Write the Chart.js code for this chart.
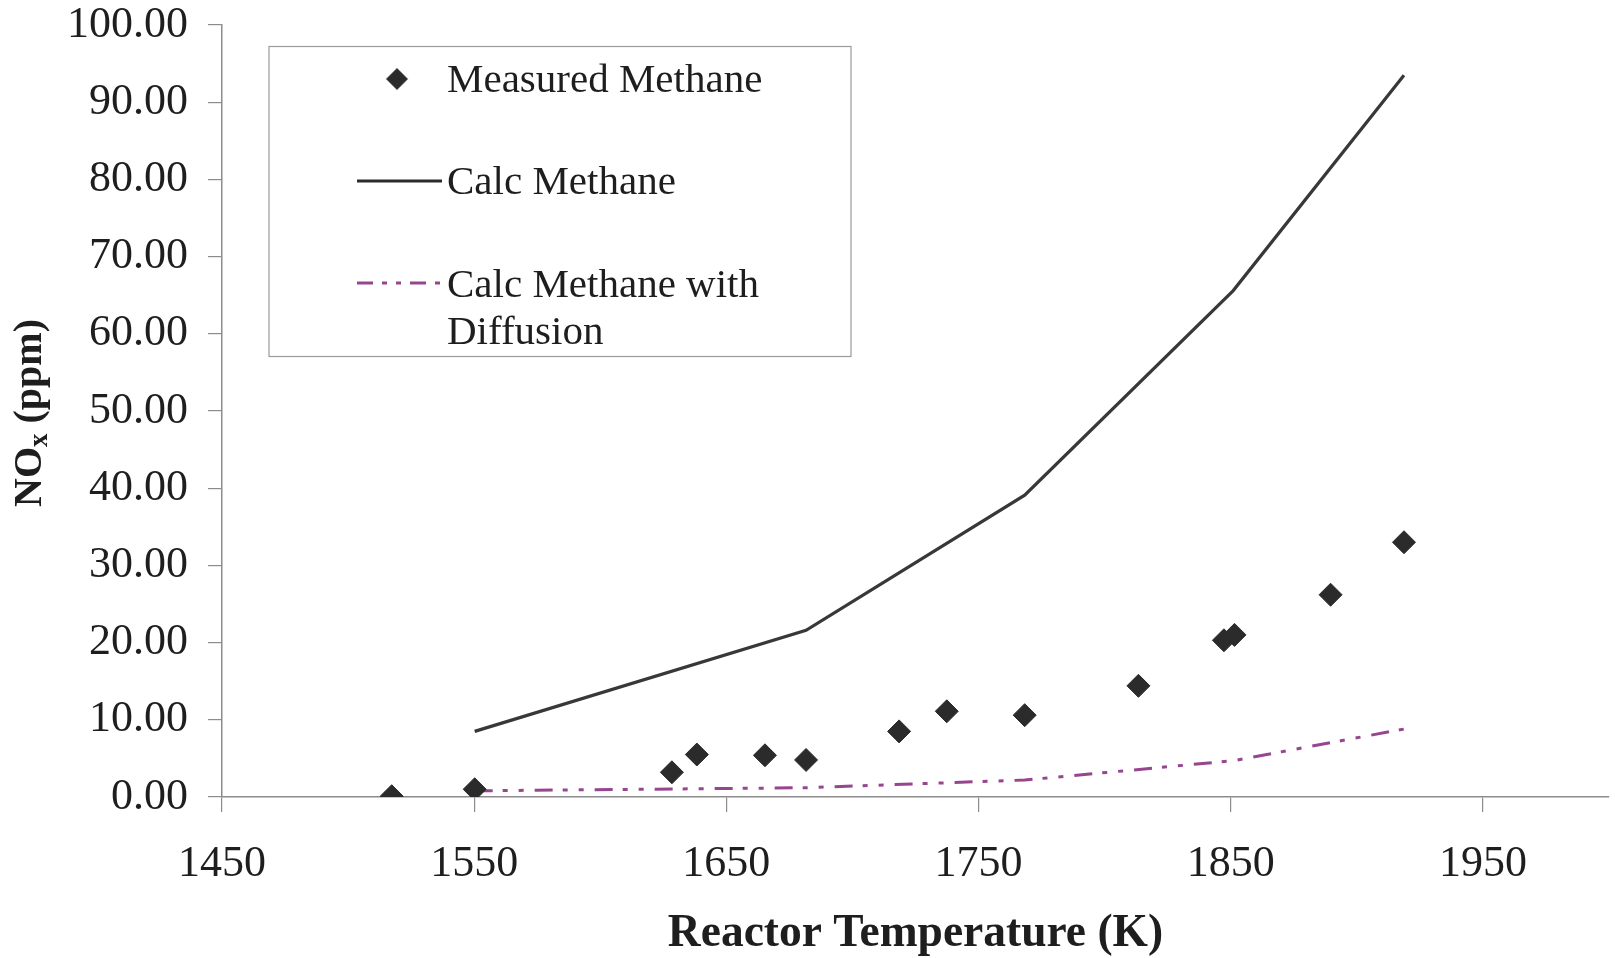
<!DOCTYPE html>
<html>
<head>
<meta charset="utf-8">
<title>NOx vs Reactor Temperature</title>
<script src="https://cdn.jsdelivr.net/npm/chart.js@4.4.1/dist/chart.umd.min.js"></script>
<style>
  html, body { margin: 0; padding: 0; background: #ffffff; }
  #wrap { width: 1615px; height: 958px; position: relative; }
</style>
</head>
<body>
<div id="wrap"><canvas id="c" width="1615" height="958"></canvas></div>
<script>
// Measured NOx for methane firing
const measuredTemp = [1517.3, 1550.2, 1628.4, 1638.3, 1665.3, 1681.6, 1718.5, 1737.4, 1768.3, 1813.4, 1847.3, 1851.5, 1889.6, 1918.7];
const measuredNOx  = [0.1, 1.0, 3.2, 5.5, 5.4, 4.8, 8.5, 11.1, 10.6, 14.4, 20.3, 21.0, 26.2, 33.0];

// Calculated NOx, plain kinetics
const calcTemp = [1550.2, 1681.6, 1768.3, 1851.0, 1918.7];
const calcNOx  = [8.5, 21.6, 39.1, 65.6, 93.5];

// Calculated NOx including diffusion
const diffTemp = [1550.2, 1681.6, 1768.3, 1851.0, 1918.7];
const diffNOx  = [0.8, 1.2, 2.2, 4.7, 8.8];

// Axis ticks
const xTicks = [1450, 1550, 1650, 1750, 1850, 1950];
const yTicks = [0, 10, 20, 30, 40, 50, 60, 70, 80, 90, 100];

const seriesNames = ['Measured Methane', 'Calc Methane', 'Calc Methane with Diffusion'];

const SERIF = '"Liberation Serif", "Times New Roman", serif';
const AXIS_GRAY = '#8c8c8c';
const INK = '#2b2b2b';
const PURPLE = '#96458f';
const DIFF_DASH = [18, 10, 5, 11, 5, 11];

const toPoints = (xs, ys) => xs.map((x, i) => ({ x: x, y: ys[i] }));

// Boxed legend in the upper left of the plot
const boxLegend = {
  id: 'boxLegend',
  afterDraw(chart) {
    const ctx = chart.ctx;
    ctx.save();
    ctx.strokeStyle = '#9a9a9a';
    ctx.lineWidth = 1.2;
    ctx.strokeRect(269, 46.5, 582, 310);

    ctx.font = '41px ' + SERIF;
    ctx.fillStyle = '#1e1e1e';
    ctx.textBaseline = 'middle';
    ctx.textAlign = 'left';

    // diamond marker
    Chart.helpers.drawPoint(ctx, { pointStyle: 'rectRot', radius: 10.5, rotation: 0, borderWidth: 1 }, 397, 79);
    ctx.fillStyle = INK;
    ctx.fill();
    ctx.fillStyle = '#1e1e1e';
    ctx.fillText(seriesNames[0], 447, 81);

    // solid line
    ctx.strokeStyle = INK;
    ctx.lineWidth = 3;
    ctx.beginPath();
    ctx.moveTo(357, 181);
    ctx.lineTo(442, 181);
    ctx.stroke();
    ctx.fillText(seriesNames[1], 447, 183);

    // dash-dot-dot line
    ctx.strokeStyle = PURPLE;
    ctx.setLineDash([16, 9, 5, 9, 5, 9]);
    ctx.beginPath();
    ctx.moveTo(357, 283);
    ctx.lineTo(442, 283);
    ctx.stroke();
    ctx.setLineDash([]);
    ctx.fillText('Calc Methane with', 447, 286);
    ctx.fillText('Diffusion', 447, 333);
    ctx.restore();
  }
};

// Rotated y-axis title with a subscript x
const yTitle = {
  id: 'yTitle',
  afterDraw(chart) {
    const ctx = chart.ctx;
    ctx.save();
    ctx.translate(31, 413);
    ctx.rotate(-Math.PI / 2);
    ctx.fillStyle = '#1e1e1e';
    ctx.textBaseline = 'middle';
    const big = 'bold 40px ' + SERIF;
    const small = 'bold 27px ' + SERIF;
    const parts = [['NO', big, 0], ['x', small, 9], [' (ppm)', big, 0]];
    let total = 0;
    parts.forEach(p => { ctx.font = p[1]; total += ctx.measureText(p[0]).width; });
    let x = -total / 2;
    parts.forEach(p => {
      ctx.font = p[1];
      ctx.fillText(p[0], x, p[2]);
      x += ctx.measureText(p[0]).width;
    });
    ctx.restore();
  }
};

new Chart(document.getElementById('c'), {
  type: 'scatter',
  data: {
    datasets: [
      {
        label: seriesNames[0],
        data: toPoints(measuredTemp, measuredNOx),
        showLine: false,
        pointStyle: 'rectRot',
        pointRadius: 11.5,
        pointBackgroundColor: INK,
        pointBorderColor: INK,
        pointBorderWidth: 1,
        order: 0
      },
      {
        label: seriesNames[1],
        data: toPoints(calcTemp, calcNOx),
        showLine: true,
        borderColor: '#383838',
        borderWidth: 3.2,
        pointRadius: 0,
        tension: 0,
        order: 1
      },
      {
        label: seriesNames[2],
        data: toPoints(diffTemp, diffNOx),
        showLine: true,
        borderColor: PURPLE,
        borderWidth: 3,
        borderDash: DIFF_DASH,
        pointRadius: 0,
        tension: 0,
        order: 2
      }
    ]
  },
  options: {
    responsive: false,
    animation: false,
    devicePixelRatio: 1,
    layout: { autoPadding: false, padding: { top: 25, right: 6, bottom: 0, left: 0 } },
    plugins: {
      legend: { display: false },
      tooltip: { enabled: false }
    },
    scales: {
      x: {
        type: 'linear',
        min: 1450,
        max: 2000,
        afterBuildTicks: s => { s.ticks = xTicks.map(v => ({ value: v })); },
        afterFit: s => { s.height = 161; s.paddingLeft = 0; s.paddingRight = 0; },
        grid: {
          display: true,
          drawOnChartArea: false,
          drawTicks: true,
          tickLength: 15,
          color: AXIS_GRAY,
          lineWidth: 1.2
        },
        border: { display: true, color: AXIS_GRAY, width: 1.5 },
        ticks: {
          padding: 30,
          color: '#1e1e1e',
          font: { family: SERIF, size: 44, lineHeight: 1.0 },
          maxRotation: 0,
          callback: v => String(v)
        },
        title: {
          display: true,
          text: 'Reactor Temperature (K)',
          color: '#1e1e1e',
          font: { family: SERIF, size: 45.5, weight: 'bold', lineHeight: 1.05 },
          padding: { top: 0, bottom: 0 }
        }
      },
      y: {
        type: 'linear',
        min: 0,
        max: 100,
        afterBuildTicks: s => { s.ticks = yTicks.map(v => ({ value: v })); },
        afterFit: s => { s.width = 222; s.paddingTop = 0; s.paddingBottom = 0; },
        grid: {
          display: true,
          drawOnChartArea: false,
          drawTicks: true,
          tickLength: 14,
          color: AXIS_GRAY,
          lineWidth: 1.2
        },
        border: { display: true, color: AXIS_GRAY, width: 1.5 },
        ticks: {
          padding: 20,
          color: '#1e1e1e',
          font: { family: SERIF, size: 44, lineHeight: 1.0 },
          callback: v => Number(v).toFixed(2)
        }
      }
    }
  },
  plugins: [boxLegend, yTitle]
});
</script>
</body>
</html>
